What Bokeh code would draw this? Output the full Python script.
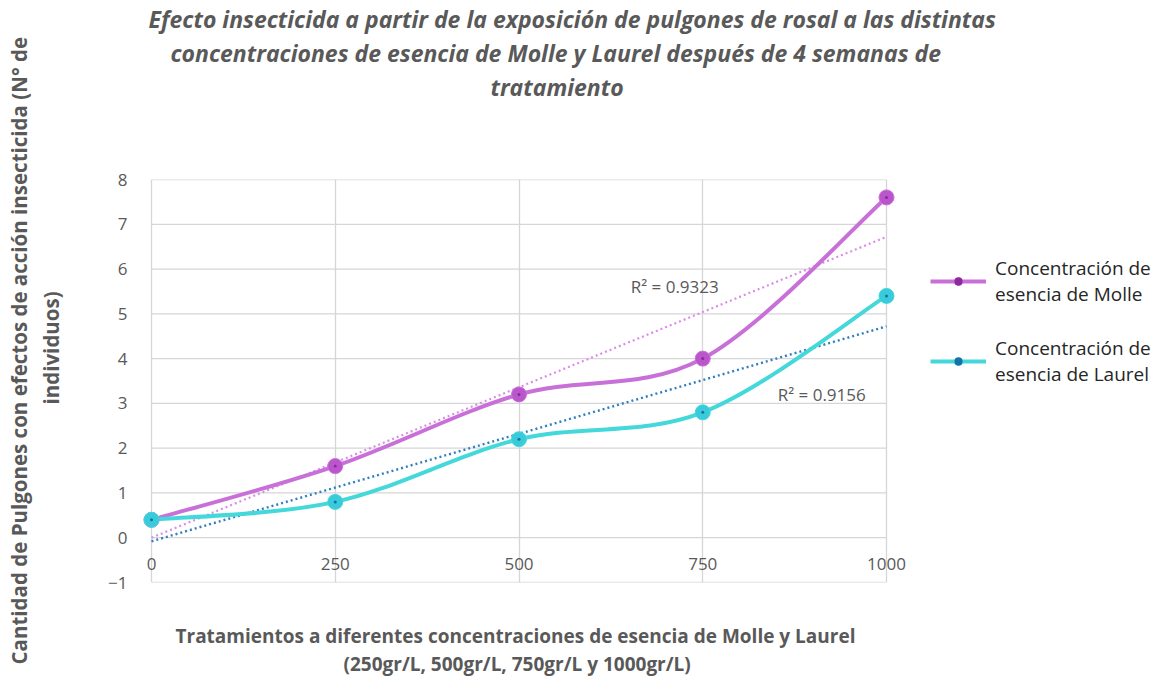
import numpy as np
from bokeh.plotting import figure
from bokeh.models import FixedTicker, Title, Legend, LegendItem, Label
from bokeh.embed import file_html
from bokeh.resources import INLINE

# ---------------- data ----------------
concentraciones = [0, 250, 500, 750, 1000]
molle = [0.4, 1.6, 3.2, 4.0, 7.6]
laurel = [0.4, 0.8, 2.2, 2.8, 5.4]
x_ticks = [0, 250, 500, 750, 1000]
y_ticks = [-1, 0, 1, 2, 3, 4, 5, 6, 7, 8]
r2_molle = "R² = 0.9323"
r2_laurel = "R² = 0.9156"
title_lines = [
    "Efecto insecticida a partir de la exposición de pulgones  de rosal a las distintas",
    "concentraciones de esencia de Molle y Laurel después  de 4 semanas de",
    "tratamiento",
]
x_label_lines = [
    "Tratamientos a  diferentes concentraciones  de esencia de Molle y Laurel",
    "(250gr/L, 500gr/L, 750gr/L y 1000gr/L)",
]
y_label_lines = [
    "Cantidad de Pulgones con efectos de acción insecticida (N° de",
    "individuos)",
]
legend_labels = ["Concentración de\nesencia de Molle", "Concentración de\nesencia de Laurel"]

FONT = "Open Sans"
GRAY = "#595959"
GRID = "#d6d6d6"
MOLLE_LINE = "#c870d8"
MOLLE_MARK = "#bb55cc"
MOLLE_DOT = "#8a2a9c"
MOLLE_TREND = "#da8ce6"
LAUREL_LINE = "#44d8da"
LAUREL_MARK = "#38cbdc"
LAUREL_DOT = "#1a6fa6"
LAUREL_TREND = "#2f7fc0"

# layout (pixels): plot area 0..1000 spans x = 151..886, frame extends right for the legend
FRAME_LEFT, ZERO_X, THOUSAND_X, FRAME_RIGHT = 141, 151, 886, 1166
PX_PER_UNIT = (THOUSAND_X - ZERO_X) / (x_ticks[-1] - x_ticks[0])
X_START = x_ticks[0] - (ZERO_X - FRAME_LEFT) / PX_PER_UNIT
X_END = x_ticks[-1] + (FRAME_RIGHT - THOUSAND_X) / PX_PER_UNIT


def smooth_segments(xs, ys, t=1.0 / 6.0):
    """Catmull-Rom style cubic Bezier control points (spreadsheet smoothing)."""
    xs = np.asarray(xs, float)
    ys = np.asarray(ys, float)
    n = len(xs)
    seg = dict(x0=[], y0=[], x1=[], y1=[], cx0=[], cy0=[], cx1=[], cy1=[])
    for i in range(n - 1):
        p0 = i - 1 if i > 0 else i
        p3 = i + 2 if i + 2 < n else i + 1
        seg["x0"].append(xs[i]); seg["y0"].append(ys[i])
        seg["x1"].append(xs[i + 1]); seg["y1"].append(ys[i + 1])
        seg["cx0"].append(xs[i] + (xs[i + 1] - xs[p0]) * t)
        seg["cy0"].append(ys[i] + (ys[i + 1] - ys[p0]) * t)
        seg["cx1"].append(xs[i + 1] - (xs[p3] - xs[i]) * t)
        seg["cy1"].append(ys[i + 1] - (ys[p3] - ys[i]) * t)
    return seg


def trend(xs, ys):
    m, b = np.polyfit(xs, ys, 1)
    ends = [xs[0], xs[-1]]
    return ends, [m * e + b for e in ends]


p = figure(width=1166, height=676, x_range=(X_START, X_END), y_range=(-1, 8),
           output_backend="svg", toolbar_location=None,
           min_border_left=FRAME_LEFT, min_border_right=1166 - FRAME_RIGHT,
           min_border_top=178, min_border_bottom=93)
p.background_fill_color = "white"
p.border_fill_color = "white"
p.outline_line_color = None

# grid: vertical lines via the axis grid, horizontal lines limited to the 0..1000 area
p.xaxis.ticker = FixedTicker(ticks=x_ticks)
p.yaxis.ticker = FixedTicker(ticks=y_ticks)
p.xgrid.ticker = FixedTicker(ticks=x_ticks)
p.xgrid.grid_line_color = GRID
p.xgrid.grid_line_width = 1.3
p.ygrid.visible = False
p.segment(x0=[x_ticks[0]] * len(y_ticks), x1=[x_ticks[-1]] * len(y_ticks),
          y0=y_ticks, y1=y_ticks, line_color=GRID, line_width=1.3, level="underlay")

for ax in (p.xaxis, p.yaxis):
    ax.axis_line_color = None
    ax.major_tick_line_color = None
    ax.minor_tick_line_color = None
    ax.major_label_text_font = FONT
    ax.major_label_text_font_size = "17px"
    ax.major_label_text_color = GRAY
p.xaxis.major_label_standoff = -31
p.yaxis.major_label_standoff = 8

# x label: spacer + two titles below (added from the plot outward)
p.add_layout(Title(text=" ", text_font_size="10px", standoff=25), "below")
for line, off in zip(x_label_lines, [34, 202]):
    p.add_layout(Title(text=line, align="left", offset=off, standoff=0, text_font=FONT,
                       text_font_size="19px", text_font_style="bold",
                       text_color=GRAY), "below")

# y label: spacer + two rotated titles on the left (added from the plot outward)
p.add_layout(Title(text=" ", text_font_size="10px", standoff=28), "left")
p.add_layout(Title(text=y_label_lines[1], align="left", offset=178, standoff=0,
                   text_font=FONT, text_font_size="20.5px", text_font_style="bold",
                   text_color=GRAY), "left")
p.add_layout(Title(text=y_label_lines[0], align="left", offset=-82, standoff=4,
                   text_font=FONT, text_font_size="20.5px", text_font_style="bold",
                   text_color=GRAY), "left")

# trend lines
tx, ty = trend(concentraciones, molle)
p.line(tx, ty, line_color=MOLLE_TREND, line_width=2.2, line_dash="2 3")
tx, ty = trend(concentraciones, laurel)
p.line(tx, ty, line_color=LAUREL_TREND, line_width=2.4, line_dash="2 3")

# smooth series lines
sm = smooth_segments(concentraciones, molle)
r_m_line = p.bezier(source=sm, x0="x0", y0="y0", x1="x1", y1="y1",
                    cx0="cx0", cy0="cy0", cx1="cx1", cy1="cy1",
                    line_color=MOLLE_LINE, line_width=4)
sl = smooth_segments(concentraciones, laurel)
r_l_line = p.bezier(source=sl, x0="x0", y0="y0", x1="x1", y1="y1",
                    cx0="cx0", cy0="cy0", cx1="cx1", cy1="cy1",
                    line_color=LAUREL_LINE, line_width=4)

r_m_mk = p.scatter(concentraciones, molle, size=15, fill_color=MOLLE_MARK,
                   line_color=MOLLE_LINE, line_width=1)
r_m_dot = p.scatter(concentraciones, molle, size=3, fill_color=MOLLE_DOT, line_color=None)
r_l_mk = p.scatter(concentraciones, laurel, size=15, fill_color=LAUREL_MARK,
                   line_color=LAUREL_LINE, line_width=1)
r_l_dot = p.scatter(concentraciones, laurel, size=3, fill_color=LAUREL_DOT, line_color=None)

# R² labels
p.add_layout(Label(x=652, y=5.62, text=r2_molle, text_font=FONT, text_font_size="17px",
                   text_color=GRAY, text_baseline="middle"))
p.add_layout(Label(x=852, y=3.2, text=r2_laurel, text_font=FONT, text_font_size="17px",
                   text_color=GRAY, text_baseline="middle"))

# legend inside the (extended) frame, right of the plotting area
legend = Legend(items=[
    LegendItem(label=legend_labels[0], renderers=[r_m_line, r_m_mk, r_m_dot]),
    LegendItem(label=legend_labels[1], renderers=[r_l_line, r_l_mk, r_l_dot]),
], location=(930 - FRAME_LEFT, 195), orientation="vertical")
legend.border_line_color = None
legend.background_fill_alpha = 0
legend.padding = 0
legend.margin = 0
legend.spacing = 28
legend.glyph_width = 56
legend.glyph_height = 20
legend.label_standoff = 9
legend.label_text_font = FONT
legend.label_text_font_size = "19px"
legend.label_text_color = "#262626"
legend.label_text_line_height = 1.2
p.add_layout(legend)

# titles, added from the plot outward: spacer, then lines 3, 2, 1
p.add_layout(Title(text=" ", text_font_size="10px", standoff=64), "above")
for line, off in reversed(list(zip(title_lines, [7, 29, 349]))):
    p.add_layout(Title(text=line, align="left", offset=off, standoff=0, text_font=FONT,
                       text_font_size="23px", text_font_style="bold italic",
                       text_color=GRAY), "above")

open("out.html", "w").write(file_html(p, INLINE))
